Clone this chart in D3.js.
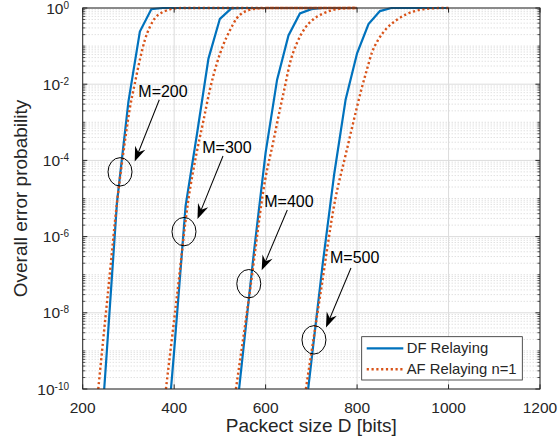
<!DOCTYPE html>
<html>
<head>
<meta charset="utf-8">
<script src="https://cdn.jsdelivr.net/npm/d3@7"></script>
<style>
  body { margin: 0; background: #fff; }
  svg { display: block; }
  text { font-family: "Liberation Sans", Arial, Helvetica, sans-serif; fill: #262626; }
</style>
</head>
<body>
<svg id="chart" width="558" height="445"></svg>
<script>
// ---- data: [packet size D, overall error probability] ----
const df200 = [[247, 1e-10], [250, 3.2e-10], [275, 7.9e-6], [300, 3.5e-3], [325, 0.24], [350, 0.93], [375, 1], [800, 1]];
const df300 = [[393, 1e-10], [400, 1e-9], [425, 6.3e-6], [450, 5.0e-4], [475, 0.047], [500, 0.52], [525, 0.98], [550, 1], [800, 1]];
const df400 = [[542, 1e-10], [550, 7.9e-10], [575, 4.5e-7], [600, 1.6e-4], [625, 0.013], [650, 0.19], [675, 0.72], [700, 0.93], [725, 1], [800, 1]];
const df500 = [[693, 1e-10], [700, 5.2e-10], [725, 2.0e-7], [750, 4.4e-5], [775, 4.0e-3], [800, 0.065], [825, 0.38], [850, 0.83], [875, 1], [1000, 1]];

const af200 = [[234, 1e-10], [255, 3.2e-8], [276, 1e-5], [290, 2.0e-4], [303, 2.3e-3], [314, 0.0105], [325, 0.044], [336, 0.145],
  [347, 0.32], [358, 0.54], [373, 0.76], [387, 0.89], [401, 0.98], [420, 1], [800, 1]];
const af300 = [[382, 1e-10], [406, 2.7e-8], [431, 9.1e-6], [449, 1.55e-4], [464, 1.1e-3], [478, 7.1e-3], [493, 0.034], [507, 0.105],
  [522, 0.26], [537, 0.54], [551, 0.76], [569, 0.92], [588, 0.98], [610, 1], [800, 1]];
const af400 = [[535, 1e-10], [566, 4.0e-8], [599, 3.1e-5], [616, 2.8e-4], [631, 2.1e-3], [642, 8.5e-3], [653, 0.035], [668, 0.117],
  [686, 0.295], [704, 0.5], [726, 0.72], [748, 0.89], [770, 0.98], [790, 1], [800, 1]];
const af500 = [[688, 1e-10], [720, 3.2e-8], [752, 9.1e-6], [775, 1.4e-4], [799, 2.3e-3], [810, 7.8e-3], [821, 0.023], [832, 0.065],
  [846, 0.145], [865, 0.295], [887, 0.49], [908, 0.69], [937, 0.89], [966, 0.98], [990, 1], [1000, 1]];

const xTicks = [200, 400, 600, 800, 1000, 1200];
const yTickExponents = [0, -2, -4, -6, -8, -10];
const legendLabels = ["DF Relaying", "AF Relaying n=1"];

// annotations: label text, label anchor, arrow start, arrow tip, circled spot
const notes = [
  { label: "M=200", text: [321.6, 4.7e-3], from: [367.5, 3.9e-3], to: [313.7, 9.3e-5], ring: [281.6, 5.0e-5] },
  { label: "M=300", text: [461.5, 1.55e-4], from: [506.8, 1.3e-4], to: [451, 2.9e-6], ring: [421.5, 1.35e-6] },
  { label: "M=400", text: [597.1, 6.0e-6], from: [647.4, 5.0e-6], to: [591.4, 1.3e-7], ring: [563.2, 5.8e-8] },
  { label: "M=500", text: [740.7, 2.0e-7], from: [786.6, 1.5e-7], to: [732, 4.1e-9], ring: [705.7, 1.95e-9] }
];

const colors = { df: "#0072BD", af: "#D95319", axis: "#262626" };

// ---- layout ----
const svg = d3.select("#chart");
const x = d3.scaleLinear().domain([200, 1200]).range([82.7, 540]);
const y = d3.scaleLog().domain([1e-10, 1]).range([389, 8]);
const [x0, x1] = x.range();
const [yb, yt] = y.range();

// grid
const minorY = [];
for (let e = -10; e < 0; e++) {
  for (let m = 1; m < 10; m++) {
    if (m === 1 && e % 2 === 0) continue;
    minorY.push(m * Math.pow(10, e));
  }
}
const majorY = yTickExponents.map((e) => Math.pow(10, e));

const grid = svg.append("g");
grid.selectAll(".minor").data(minorY).join("line")
  .attr("x1", x0).attr("x2", x1)
  .attr("y1", (d) => y(d)).attr("y2", (d) => y(d))
  .attr("stroke", "#c2c2c2").attr("stroke-width", 0.7)
  .attr("stroke-dasharray", "1,2");
grid.selectAll(".majory").data(majorY).join("line")
  .attr("x1", x0).attr("x2", x1)
  .attr("y1", (d) => y(d)).attr("y2", (d) => y(d))
  .attr("stroke", "#dcdcdc").attr("stroke-width", 1);
grid.selectAll(".majorx").data(xTicks).join("line")
  .attr("x1", (d) => x(d)).attr("x2", (d) => x(d))
  .attr("y1", yb).attr("y2", yt)
  .attr("stroke", "#dcdcdc").attr("stroke-width", 1);

// curves
const lineDF = d3.line().x((d) => x(d[0])).y((d) => y(d[1]));
const lineAF = d3.line().curve(d3.curveMonotoneX).x((d) => x(d[0])).y((d) => y(d[1]));

[df200, df300, df400, df500].forEach((s) => {
  svg.append("path").datum(s)
    .attr("fill", "none").attr("stroke", colors.df).attr("stroke-width", 2.2)
    .attr("d", lineDF);
});
[af200, af300, af400, af500].forEach((s) => {
  svg.append("path").datum(s)
    .attr("fill", "none").attr("stroke", colors.af).attr("stroke-width", 2.4)
    .attr("stroke-dasharray", "2.2,2.6")
    .attr("d", lineAF);
});

// axes box and ticks
const ax = svg.append("g").attr("stroke", colors.axis).attr("fill", "none");
ax.append("rect").attr("x", x0).attr("y", yt).attr("width", x1 - x0).attr("height", yb - yt)
  .attr("stroke-width", 1);
xTicks.forEach((t) => {
  ax.append("line").attr("x1", x(t)).attr("x2", x(t)).attr("y1", yb).attr("y2", yb - 4.6);
  ax.append("line").attr("x1", x(t)).attr("x2", x(t)).attr("y1", yt).attr("y2", yt + 4.6);
});
majorY.forEach((t) => {
  ax.append("line").attr("x1", x0).attr("x2", x0 + 4.6).attr("y1", y(t)).attr("y2", y(t));
  ax.append("line").attr("x1", x1).attr("x2", x1 - 4.6).attr("y1", y(t)).attr("y2", y(t));
});
minorY.forEach((t) => {
  ax.append("line").attr("x1", x0).attr("x2", x0 + 2.6).attr("y1", y(t)).attr("y2", y(t)).attr("stroke-width", 0.8);
  ax.append("line").attr("x1", x1).attr("x2", x1 - 2.6).attr("y1", y(t)).attr("y2", y(t)).attr("stroke-width", 0.8);
});

// tick labels
svg.append("g").selectAll("text").data(xTicks).join("text")
  .attr("x", (d) => x(d)).attr("y", yb + 24)
  .attr("text-anchor", "middle").attr("font-size", 15.5)
  .text((d) => d);

const yl = svg.append("g").selectAll("text").data(yTickExponents).join("text")
  .attr("x", 69).attr("y", (d) => y(Math.pow(10, d)) + 5.5)
  .attr("text-anchor", "end").attr("font-size", 15.5);
yl.append("tspan").text("10");
yl.append("tspan").attr("font-size", 10).attr("dy", -5).text((d) => d);

// axis titles
svg.append("text")
  .attr("x", (x0 + x1) / 2).attr("y", 432)
  .attr("text-anchor", "middle").attr("font-size", 19)
  .text("Packect size D [bits]");
svg.append("text")
  .attr("transform", `translate(27,${(yb + yt) / 2}) rotate(-90)`)
  .attr("text-anchor", "middle").attr("font-size", 19)
  .text("Overall error probability");

// annotations
const ann = svg.append("g");
notes.forEach((n) => {
  ann.append("ellipse")
    .attr("cx", x(n.ring[0])).attr("cy", y(n.ring[1]))
    .attr("rx", 12).attr("ry", 14.2)
    .attr("fill", "none").attr("stroke", "#000").attr("stroke-width", 1);

  const sx = x(n.from[0]), sy = y(n.from[1]);
  const tx = x(n.to[0]), ty = y(n.to[1]);
  const ang = Math.atan2(ty - sy, tx - sx);
  const len = Math.hypot(tx - sx, ty - sy);
  const g = ann.append("g")
    .attr("transform", `translate(${sx},${sy}) rotate(${(ang * 180) / Math.PI})`);
  g.append("line").attr("x1", 0).attr("y1", 0).attr("x2", len - 9).attr("y2", 0)
    .attr("stroke", "#000").attr("stroke-width", 1);
  g.append("path")
    .attr("d", `M${len},0 L${len - 15},-5.5 L${len - 10},0 L${len - 15},5.5 Z`)
    .attr("fill", "#000");

  ann.append("text")
    .attr("x", x(n.text[0])).attr("y", y(n.text[1]))
    .attr("font-size", 16).style("fill", "#000")
    .text(n.label);
});

// legend
const lg = svg.append("g").attr("transform", "translate(361.7,336.7)");
lg.append("rect").attr("width", 160.6).attr("height", 43.3)
  .attr("fill", "#fff").attr("stroke", colors.axis).attr("stroke-width", 0.8);
legendLabels.forEach((lab, i) => {
  const yy = 11.6 + i * 21;
  lg.append("line").attr("x1", 5).attr("x2", 41.6).attr("y1", yy).attr("y2", yy)
    .attr("stroke", i === 0 ? colors.df : colors.af).attr("stroke-width", i === 0 ? 2.2 : 2.4)
    .attr("stroke-dasharray", i === 0 ? null : "2.2,2.6");
  lg.append("text").attr("x", 45).attr("y", yy + 5.2)
    .attr("font-size", 14.8).text(lab);
});
</script>
</body>
</html>
